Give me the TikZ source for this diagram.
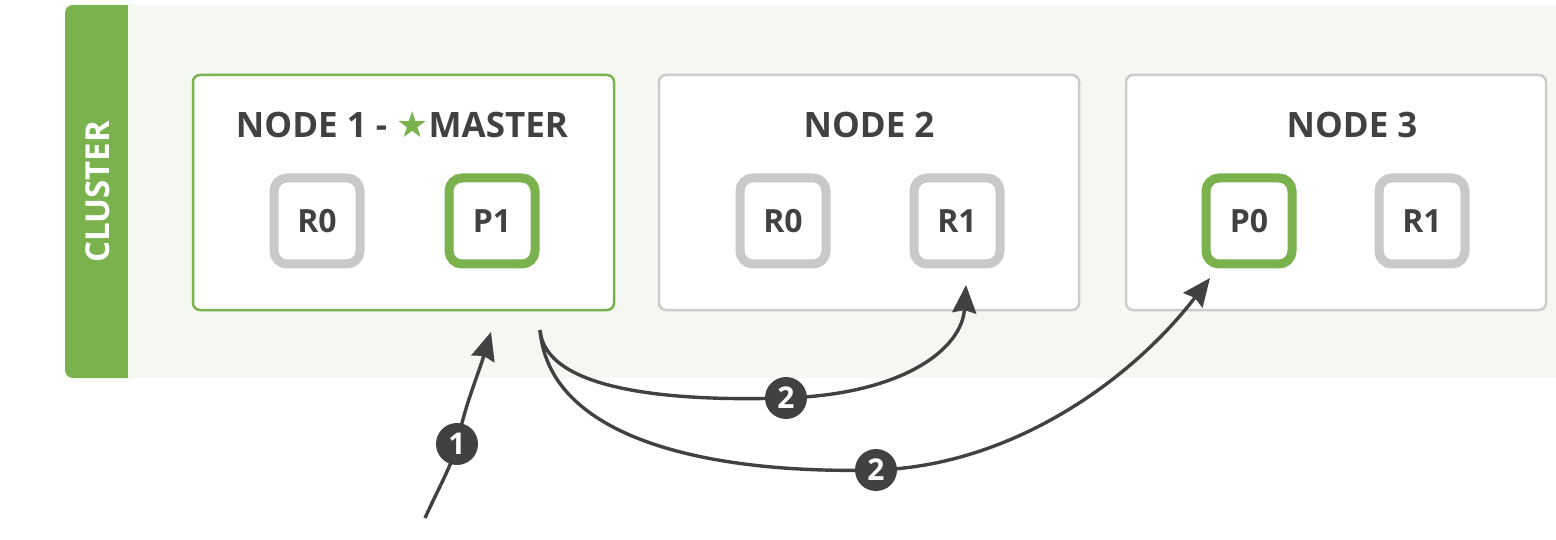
\documentclass[tikz,border=0pt]{standalone}
\usepackage{fontspec}
\setmainfont{Open Sans}
\newfontfamily\symfont{DejaVu Sans}
\usetikzlibrary{arrows.meta}
\definecolor{esgreen}{HTML}{7AB24E}
\definecolor{shardgray}{HTML}{C9C9C9}
\definecolor{boxgray}{HTML}{CCCCCC}
\definecolor{panelbg}{HTML}{F5F7F3}
\definecolor{inkdark}{HTML}{404241}
\tikzset{
  nodebox/.style={draw, fill=white, line width=2.5pt, rounded corners=7pt},
  title/.style={font=\bfseries\fontsize{35}{38}\selectfont, text=inkdark, inner sep=0pt},
  shard/.style={draw=shardgray, fill=white, line width=9pt, rounded corners=13pt,
    minimum width=86pt, minimum height=86pt, inner sep=0pt,
    font=\bfseries\fontsize{32}{34}\selectfont, text=inkdark},
  primary/.style={shard, draw=esgreen},
  stepnum/.style={circle, fill=inkdark, minimum size=42pt, inner sep=0pt,
    text=white, font=\bfseries\fontsize{30}{32}\selectfont},
  flow/.style={draw=inkdark, line width=3.4pt, -{Stealth[length=28pt,width=24pt,inset=3pt]}}
}
\begin{document}
\begin{tikzpicture}[x=1pt,y=-1pt]
\useasboundingbox (0,0) rectangle (1556,540);
% cluster panel
\fill[panelbg] (65,5) rectangle (1556,378);
\fill[esgreen, rounded corners=8pt] (65,5) rectangle (140,378);
\fill[esgreen] (110,5) rectangle (128,378);
\fill[panelbg] (128,5) rectangle (141,378);
\node[rotate=90, text=white, font=\bfseries\fontsize{33}{35}\selectfont, inner sep=0pt] (clabel) at (98,192) {CLUSTER};
% node boxes
\node[nodebox, draw=esgreen, minimum width=421pt, minimum height=235pt] (n1) at (403.5,192.5) {};
\node[nodebox, draw=boxgray, minimum width=420pt, minimum height=235pt] (n2) at (869,192.5) {};
\node[nodebox, draw=boxgray, minimum width=420pt, minimum height=235pt] (n3) at (1336,192.5) {};
% titles
\node[title] (t1) at (402,125) {NODE 1 - {\color{esgreen}\symfont\fontsize{36}{38}\selectfont ★}MASTER};
\node[title] (t2) at (869,125) {NODE 2};
\node[title] (t3) at (1352,125) {NODE 3};
% shards
\node[shard] (n1r0) at (317,221) {R0};
\node[primary] (n1p1) at (492,221) {P1};
\node[shard] (n2r0) at (783,221) {R0};
\node[shard] (n2r1) at (957,221) {R1};
\node[primary] (n3p0) at (1249,221) {P0};
\node[shard] (n3r1) at (1422,221) {R1};
% arrow 1
\coordinate (a1s) at (425,518);
\coordinate (a1t) at (491,332);
\coordinate (c1pos) at (457,444);
\draw[flow] (a1s) .. controls (440,485) and (452,465) .. (c1pos) .. controls (465,405) and (478,375) .. (a1t);
\node[stepnum] (c1) at (c1pos) {1};
% arrows 2
\coordinate (a2s) at (540,330);
\coordinate (a2at) at (966,285);
\coordinate (a2bt) at (1210,278);
\coordinate (c2apos) at (786,398);
\coordinate (c2bpos) at (876,470);
\draw[flow] (a2s) .. controls (545,388) and (660,402) .. (c2apos) .. controls (905,394) and (962,348) .. (a2at);
\draw[flow] (a2s) .. controls (550,445) and (725,474) .. (c2bpos) .. controls (1010,466) and (1130,382) .. (a2bt);
\node[stepnum] (c2a) at (c2apos) {2};
\node[stepnum] (c2b) at (c2bpos) {2};
\end{tikzpicture}
\end{document}
